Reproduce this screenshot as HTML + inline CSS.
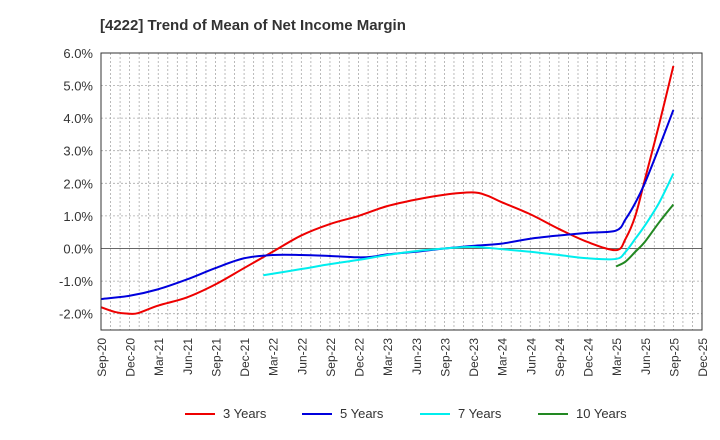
<!DOCTYPE html>
<html><head><meta charset="utf-8"><style>
body{margin:0;background:#fff;}
svg{display:block;font-family:"Liberation Sans",Arial,sans-serif;}
</style></head><body>
<svg id="c" width="720" height="440" viewBox="0 0 720 440" xmlns="http://www.w3.org/2000/svg">
<text x="100" y="30" font-size="15" font-weight="bold" fill="#333">[4222]  Trend of Mean of Net Income Margin</text>
<g id="grid"></g>
<g id="lines"></g>
<rect x="101" y="53" width="601" height="277" fill="none" stroke="#333" stroke-width="1"/>
<g font-size="13" fill="#333">
<line x1="185" y1="414" x2="215" y2="414" stroke="#e00" stroke-width="2"/><text x="223" y="418">3 Years</text>
<line x1="302" y1="414" x2="332" y2="414" stroke="#00d" stroke-width="2"/><text x="340" y="418">5 Years</text>
<line x1="420" y1="414" x2="450" y2="414" stroke="#0ee" stroke-width="2"/><text x="458" y="418">7 Years</text>
<line x1="538" y1="414" x2="568" y2="414" stroke="#282" stroke-width="2"/><text x="576" y="418">10 Years</text>
</g>
</svg>
<script>
const X0=101,X1=702,Q=(X1-X0)/21;
const Y=v=>248.5-v*32.6;
const X=i=>X0+i*Q;
let g=document.getElementById('grid'),h='';
for(let m=1;m<63;m++){let x=X0+m*Q/3;h+=`<line x1="${x}" y1="53" x2="${x}" y2="330" stroke="#aaa" stroke-dasharray="2,2" stroke-width="0.8"/>`;}
for(let v=-2;v<=6;v++){let y=Y(v);h+=`<line x1="101" y1="${y}" x2="702" y2="${y}" stroke="${v==0?'#666':'#aaa'}" stroke-dasharray="${v==0?'none':'2,2'}" stroke-width="${v==0?1:0.8}"/>`;
h+=`<text x="93" y="${y+5}" font-size="13" fill="#333" text-anchor="end">${v.toFixed(1)}%</text>`;}
const labs=["Sep-20","Dec-20","Mar-21","Jun-21","Sep-21","Dec-21","Mar-22","Jun-22","Sep-22","Dec-22","Mar-23","Jun-23","Sep-23","Dec-23","Mar-24","Jun-24","Sep-24","Dec-24","Mar-25","Jun-25","Sep-25","Dec-25"];
labs.forEach((l,i)=>{let x=X(i)+5;h+=`<text transform="translate(${x},338) rotate(-90)" font-size="12" fill="#333" text-anchor="end">${l}</text>`;});
g.innerHTML=h;
const S={
"#e00":[[0,-1.8],[0.5,-1.95],[1,-2.0],[1.3,-1.98],[2,-1.75],[3,-1.5],[4,-1.1],[5,-0.6],[6,-0.1],[7,0.4],[8,0.75],[9,1.0],[10,1.3],[11,1.5],[12,1.65],[13,1.72],[13.5,1.62],[14,1.42],[15,1.05],[16,0.6],[17,0.2],[18,-0.05],[18.33,0.3],[18.67,1.0],[19,2.1],[19.5,3.8],[20,5.6]],
"#00d":[[0,-1.55],[1,-1.45],[2,-1.25],[3,-0.95],[4,-0.6],[5,-0.3],[6,-0.2],[7,-0.2],[8,-0.23],[9,-0.27],[9.5,-0.25],[10,-0.18],[11,-0.1],[12,0],[13,0.08],[14,0.15],[15,0.3],[16,0.4],[17,0.48],[18,0.55],[18.33,0.9],[18.67,1.4],[19,2.0],[19.5,3.1],[20,4.25]],
"#0ee":[[5.67,-0.82],[7,-0.63],[8,-0.48],[9,-0.35],[10,-0.2],[11,-0.08],[12,0],[13,0.05],[14,-0.02],[15,-0.1],[16,-0.2],[17,-0.3],[18,-0.32],[18.33,-0.1],[18.67,0.3],[19,0.7],[19.5,1.4],[20,2.3]],
"#282":[[18,-0.55],[18.33,-0.4],[18.67,-0.1],[19,0.2],[19.5,0.8],[20,1.35]]};
let L='';
for(const c in S){const p=S[c].map(([i,v])=>[X(i),Y(v)]);let d=`M${p[0][0]},${p[0][1]}`;
for(let k=0;k<p.length-1;k++){const a=p[k-1]||p[k],b=p[k],e=p[k+1],f=p[k+2]||e;
d+=` C${b[0]+(e[0]-a[0])/6},${b[1]+(e[1]-a[1])/6} ${e[0]-(f[0]-b[0])/6},${e[1]-(f[1]-b[1])/6} ${e[0]},${e[1]}`;}
L+=`<path d="${d}" fill="none" stroke="${c}" stroke-width="2"/>`;}
document.getElementById('lines').innerHTML=L;
</script>
</body></html>
